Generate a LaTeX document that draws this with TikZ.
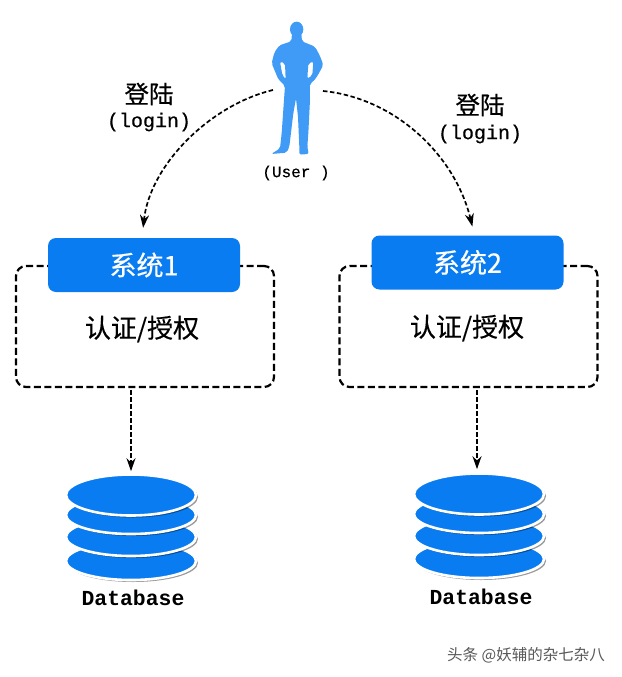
\documentclass[tikz,border=0pt]{standalone}
\usepackage{fontspec}
\setmainfont{Liberation Mono}
\newfontfamily\cjk[FakeBold=0.5]{Noto Sans CJK SC}
\newfontfamily\cjklight{Noto Sans CJK SC}
\newfontfamily\monofat[FakeBold=0.4]{Liberation Mono}
\usetikzlibrary{arrows.meta,shapes.geometric,shadows}
\definecolor{sysblue}{HTML}{0A7CF2}
\definecolor{userblue}{HTML}{3F9BF6}
\tikzset{
    sysbox/.style={fill=sysblue, rounded corners=8pt, minimum width=192pt, minimum height=54pt, text=white, font=\cjk\fontsize{27}{29}\selectfont, inner sep=0pt},
    authbox/.style={draw, dash pattern=on 7pt off 3.5pt, line width=2.2pt, rounded corners=10pt, minimum width=258pt, minimum height=121pt, inner sep=0pt},
    disk/.style={ellipse, fill=sysblue, draw=white, line width=2.6pt, minimum width=130pt, minimum height=38pt, inner sep=0pt, drop shadow={shadow xshift=2pt, shadow yshift=-2pt, fill=black, opacity=0.4}},
    flow/.style={dash pattern=on 4.5pt off 2.5pt, line width=1.7pt, -{Stealth[length=13pt,width=9pt]}},
    cnlabel/.style={font=\cjk\fontsize{24.5}{26}\selectfont, inner sep=0pt},
    monolabel/.style={font=\monofat\fontsize{20}{22}\selectfont, inner sep=0pt},
}
\begin{document}
\begin{tikzpicture}[x=1pt,y=-1pt]
        \useasboundingbox[fill=white] (0,0) rectangle (621,677);
        %draw the user figure
        \begin{scope}[shift={(230,0)},x=0.3333pt,y=-0.3333pt]
            \fill[userblue] (200,88) ellipse (20 and 23);
            \fill[userblue, even odd rule, rounded corners=2pt]
                (186,100) -- (214,100) -- (216,124) -- (255,140) -- (270,168) -- (280,195) -- (264,225) -- (250,245) -- (240,250) -- (240,300) -- (235,400) -- (232,440) -- (236,462) -- (208,464) -- (208,440) -- (204,350) -- (198,295) -- (190,340) -- (178,440) -- (170,458) -- (124,462) -- (150,445) -- (155,400) -- (162,300) -- (165,258) -- (145,238) -- (125,190) -- (133,158) -- (148,136) -- (184,124) -- cycle
                (150,185) -- (165,190) -- (167,238) -- (157,225) -- cycle
                (250,185) -- (235,190) -- (232,236) -- (247,226) -- cycle;
        \end{scope}
        \node[font=\monofat\fontsize{16}{18}\selectfont, inner sep=0pt] (user) at (296,173) {(User )};
        \coordinate (userleft) at (273,90);
        \coordinate (userright) at (323,91);

        %draw the two systems
        \node[authbox] (auth1) at (145,326.5) {};
        \node[authbox] (auth2) at (468.5,326.5) {};
        \node[sysbox] (sys1) at (144,265) {\raisebox{2pt}{系统1}};
        \node[sysbox] (sys2) at (467.5,262.5) {系统2};
        \node[cnlabel, font=\cjk\fontsize{26}{28}\selectfont] (authtext1) at (142,329) {认证/授权};
        \node[cnlabel, font=\cjk\fontsize{26}{28}\selectfont] (authtext2) at (467,328) {认证/授权};

        %draw the databases, lowest disk first
        \node[disk] (db1d) at (131,561) {};
        \node[disk] (db1c) at (131,537) {};
        \node[disk] (db1b) at (131,515) {};
        \node[disk, minimum height=41pt] (db1a) at (131,495) {};
        \node[disk] (db2d) at (479,559) {};
        \node[disk] (db2c) at (479,536) {};
        \node[disk] (db2b) at (479,514) {};
        \node[disk, minimum height=41pt] (db2a) at (479,494) {};
        \node[monolabel, font=\bfseries\fontsize{21.4}{23}\selectfont] (dbtext1) at (133,598) {Database};
        \node[monolabel, font=\bfseries\fontsize{21.4}{23}\selectfont] (dbtext2) at (481,597) {Database};

        % label the logins
        \node[cnlabel] (login1) at (149,94) {登陆};
        \node[monolabel] (loginen1) at (149,122) {(login)};
        \node[cnlabel] (login2) at (480,105) {登陆};
        \node[monolabel] (loginen2) at (480,134) {(login)};

        %draw the connectors
        \draw[flow, shorten >=10pt] (userleft) .. controls (210,105) and (150,165) .. ([xshift=-2pt]sys1.north);
        \draw[flow, shorten >=9pt] (userright) .. controls (395,98) and (455,155) .. ([xshift=7pt]sys2.north);
        \draw[flow, shorten <=2pt, shorten >=2pt] (auth1.south -| db1a.north) -- (db1a.north);
        \draw[flow, shorten <=2pt, shorten >=3pt] ([xshift=-2pt]auth2.south -| db2a.north) -- ([xshift=-2pt]db2a.north);

        \node[font=\cjklight\fontsize{15.5}{17}\selectfont, text=black!65, inner sep=0pt] (mark) at (526,655) {头条 @妖辅的杂七杂八};
    \end{tikzpicture}
\end{document}
